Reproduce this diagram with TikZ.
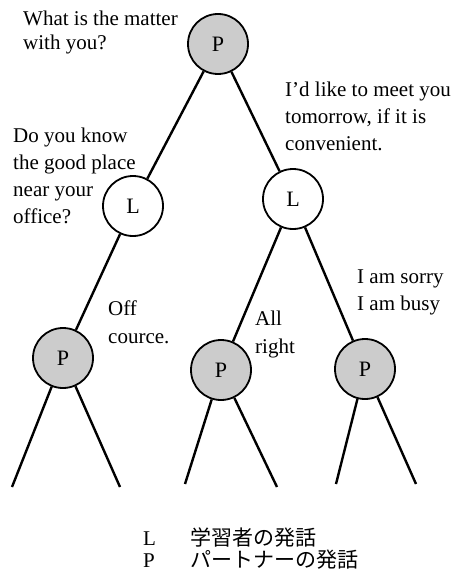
\documentclass[tikz,border=0pt]{standalone}
\usepackage{fontspec}
\setmainfont{Liberation Serif}
\newfontfamily\jpfont{Noto Sans CJK JP}
\begin{document}
\begin{tikzpicture}[x=1pt,y=-1pt,
  cnode/.style={circle, draw, line width=1.8pt, minimum size=60pt, inner sep=0pt, font=\fontsize{22}{24}\selectfont},
  pnode/.style={cnode, fill=gray!40},
  lnode/.style={cnode, fill=white},
  branch/.style={line width=2.4pt},
  lab/.style={anchor=base west, inner sep=0pt, align=left},
  fs/.style={font=\fontsize{21}{#1}\selectfont}
]
\useasboundingbox (0,0) rectangle (453,572);

\node[pnode] (root) at (218,44) {P};
\node[lnode] (l1) at (133,206) {L};
\node[lnode] (l2) at (293,199) {L};
\node[pnode] (p1) at (63,358) {P};
\node[pnode] (p2) at (221,370) {P};
\node[pnode] (p3) at (365,369) {P};

\coordinate (a1) at (12,487);
\coordinate (a2) at (120,487);
\coordinate (b1) at (185,484);
\coordinate (b2) at (277,487);
\coordinate (c1) at (336,484);
\coordinate (c2) at (416,484);

\draw[branch] (root) -- (l1);
\draw[branch] (root) -- (l2);
\draw[branch] (l1) -- (p1);
\draw[branch] (l2) -- (p2);
\draw[branch] (l2) -- (p3);
\draw[branch] (p1) -- (a1);
\draw[branch] (p1) -- (a2);
\draw[branch] (p2) -- (b1);
\draw[branch] (p2) -- (b2);
\draw[branch] (p3) -- (c1);
\draw[branch] (p3) -- (c2);

\node[lab, fs=24.5] (t1) at (23,50) {What is the matter\\with you?};
\node[lab, fs=26.5] (t2) at (285,150) {I'd like to meet you\\tomorrow, if it is\\convenient.};
\node[lab, fs=26.7] (t3) at (13,223) {Do you know\\the good place\\near your\\office?};
\node[lab, fs=28] (t4) at (108,343) {Off\\cource.};
\node[lab, fs=28] (t5) at (255,353) {All\\right};
\node[lab, fs=27] (t6) at (357,310) {I am sorry\\I am busy};

\node[lab, fs=24] (kL) at (143,545) {L};
\node[lab, fs=24] (kP) at (143,567) {P};
\node[lab, font=\jpfont\fontsize{21}{24}\selectfont] (dL) at (190,545) {学習者の発話};
\node[lab, font=\jpfont\fontsize{21}{24}\selectfont] (dP) at (190,567) {パートナーの発話};
\end{tikzpicture}
\end{document}
